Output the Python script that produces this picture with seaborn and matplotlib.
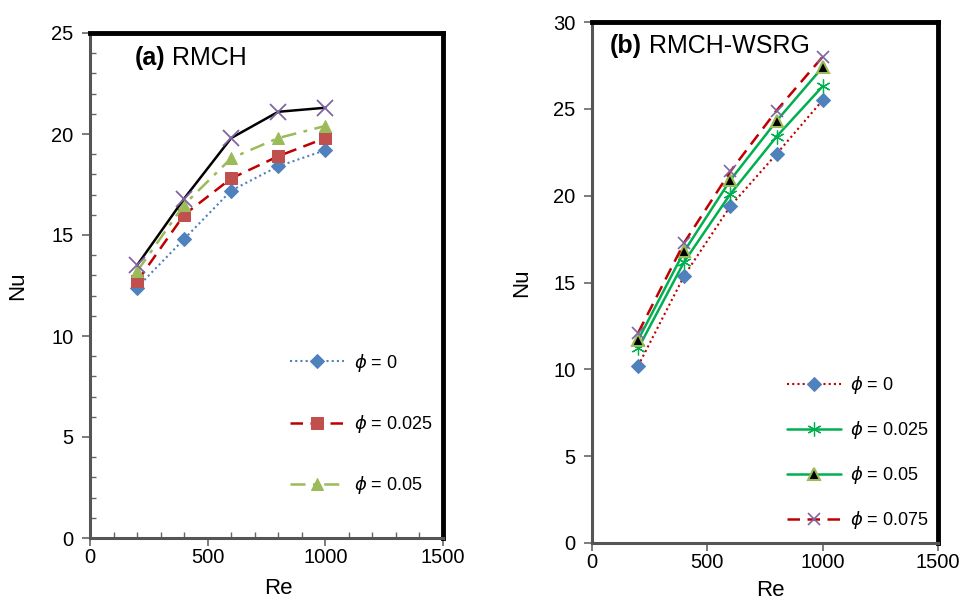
import numpy as np
import pandas as pd
import matplotlib
matplotlib.use("Agg")
import matplotlib.pyplot as plt
from matplotlib.ticker import MultipleLocator
import seaborn as sns

# ---------------- data ----------------
re_vals = [200, 400, 600, 800, 1000]

# panel (a) RMCH
a_phi0 = [12.4, 14.8, 17.2, 18.4, 19.2]
a_phi025 = [12.7, 16.0, 17.8, 18.9, 19.8]
a_phi05 = [13.2, 16.5, 18.8, 19.8, 20.4]
a_phi075 = [13.5, 16.8, 19.8, 21.1, 21.3]

# panel (b) RMCH-WSRG
b_phi0 = [10.2, 15.4, 19.4, 22.4, 25.5]
b_phi025 = [11.2, 16.2, 20.1, 23.4, 26.3]
b_phi05 = [11.7, 16.8, 20.9, 24.3, 27.4]
b_phi075 = [12.1, 17.3, 21.4, 24.9, 28.0]

a_labels = [r"$\phi$ = 0", r"$\phi$ = 0.025", r"$\phi$ = 0.05"]
b_labels = [r"$\phi$ = 0", r"$\phi$ = 0.025", r"$\phi$ = 0.05", r"$\phi$ = 0.075"]

# ---------------- style ----------------
sns.set_style("white")
plt.rcParams["font.family"] = ["Liberation Sans", "DejaVu Sans"]
plt.rcParams["mathtext.fontset"] = "dejavusans"
plt.rcParams["text.color"] = "black"
plt.rcParams["axes.labelcolor"] = "black"
plt.rcParams["xtick.color"] = "black"
plt.rcParams["ytick.color"] = "black"

fig = plt.figure(figsize=(9.78, 6.04), dpi=100)
axA = fig.add_axes([90 / 978, 1 - 538 / 604, 353 / 978, 505 / 604])
axB = fig.add_axes([592 / 978, 1 - 543 / 604, 346 / 978, 521 / 604])

BLUE = "#4F81BD"
RED = "#C0504D"
DRED = "#C00000"
LGREEN = "#9BBB59"
GREEN = "#00B050"
PURPLE = "#8064A2"


def draw(ax, y, **kw):
    before = len(ax.lines)
    sns.lineplot(x=re_vals, y=y, ax=ax, legend=False, **kw)
    return ax.lines[before]


# panel (a)
hA = []
hA.append(draw(axA, a_phi0, color=BLUE, linestyle=(0, (1, 1.5)), linewidth=1.5,
               marker="D", markersize=7, markerfacecolor=BLUE, markeredgecolor=BLUE))
hA.append(draw(axA, a_phi025, color=DRED, linestyle=(0, (5, 3)), linewidth=1.8,
               marker="s", markersize=9, markerfacecolor=RED, markeredgecolor=RED))
hA.append(draw(axA, a_phi05, color=LGREEN, linestyle=(0, (6, 3, 1.5, 3)), linewidth=1.8,
               marker="^", markersize=9, markerfacecolor=LGREEN, markeredgecolor=LGREEN))
draw(axA, a_phi075, color="black", linestyle="-", linewidth=1.8,
     marker="x", markersize=12, markeredgewidth=1.3, markeredgecolor=PURPLE)

# panel (b)
hB = []
hB.append(draw(axB, b_phi0, color=DRED, linestyle=(0, (1, 1.5)), linewidth=1.5,
               marker="D", markersize=7, markerfacecolor=BLUE, markeredgecolor=BLUE))
hB.append(draw(axB, b_phi025, color=GREEN, linestyle="-", linewidth=1.8,
               marker=(6, 2, 0), markersize=10, markeredgewidth=0.9,
               markeredgecolor=GREEN))
hB.append(draw(axB, b_phi05, color=GREEN, linestyle="-", linewidth=1.8,
               marker="^", markersize=8, markerfacecolor="black",
               markeredgecolor=LGREEN, markeredgewidth=1.5))
hB.append(draw(axB, b_phi075, color=DRED, linestyle=(0, (5, 3)), linewidth=1.8,
               marker="x", markersize=9, markeredgewidth=1.2, markeredgecolor=PURPLE))

# ---------------- axes formatting ----------------
for ax, ymax, ystep in [(axA, 25, 5), (axB, 30, 5)]:
    ax.set_xlim(0, 1500)
    ax.set_ylim(0, ymax)
    ax.xaxis.set_major_locator(MultipleLocator(500))
    ax.yaxis.set_major_locator(MultipleLocator(ystep))
    ax.set_xlabel("Re", fontsize=16)
    ax.set_ylabel("Nu", fontsize=16)
    ax.tick_params(axis="both", which="major", labelsize=14.5, direction="out",
                   length=6, width=1.2, color="#666666", labelcolor="black",
                   bottom=True, left=True)
    ax.tick_params(axis="x", which="major", pad=1)
    ax.tick_params(axis="y", which="major", pad=6)
    for s in ["left", "bottom"]:
        ax.spines[s].set_color("#555555")
        ax.spines[s].set_linewidth(2.2)
    for s in ["top", "right"]:
        ax.spines[s].set_color("black")
        ax.spines[s].set_linewidth(3.5)
    ax.grid(False)

axA.xaxis.set_minor_locator(MultipleLocator(100))
axA.yaxis.set_minor_locator(MultipleLocator(1))
axA.tick_params(axis="both", which="minor", direction="in", length=4, width=1,
                color="#666666", bottom=True, left=True)
axA.yaxis.set_label_coords(-0.176, 0.5)
axB.yaxis.set_label_coords(-0.173, 0.5)
axA.xaxis.set_label_coords(0.533, -0.08)
axB.xaxis.set_label_coords(0.515, -0.071)

# titles
tA = axA.text(0.127, 0.95, "(a)", transform=axA.transAxes, fontsize=18,
              fontweight="bold", va="center", ha="left")
axA.annotate(" RMCH", xy=(1, 0), xycoords=tA, va="bottom", ha="left", fontsize=18)
tB = axB.text(0.052, 0.953, "(b)", transform=axB.transAxes, fontsize=18,
              fontweight="bold", va="center", ha="left")
axB.annotate(" RMCH-WSRG", xy=(1, 0), xycoords=tB, va="bottom", ha="left", fontsize=18)

# legends
axA.legend(hA, a_labels, loc="upper left", bbox_to_anchor=(0.567, 0.369),
           frameon=False, fontsize=13, handlelength=3.0, handletextpad=0.55,
           labelspacing=2.18, borderpad=0, borderaxespad=0, numpoints=1)
axB.legend(hB, b_labels, loc="upper left", bbox_to_anchor=(0.564, 0.324),
           frameon=False, fontsize=13, handlelength=3.0, handletextpad=0.5,
           labelspacing=1.27, borderpad=0, borderaxespad=0, numpoints=1)

fig.savefig("out.png", dpi=100)
